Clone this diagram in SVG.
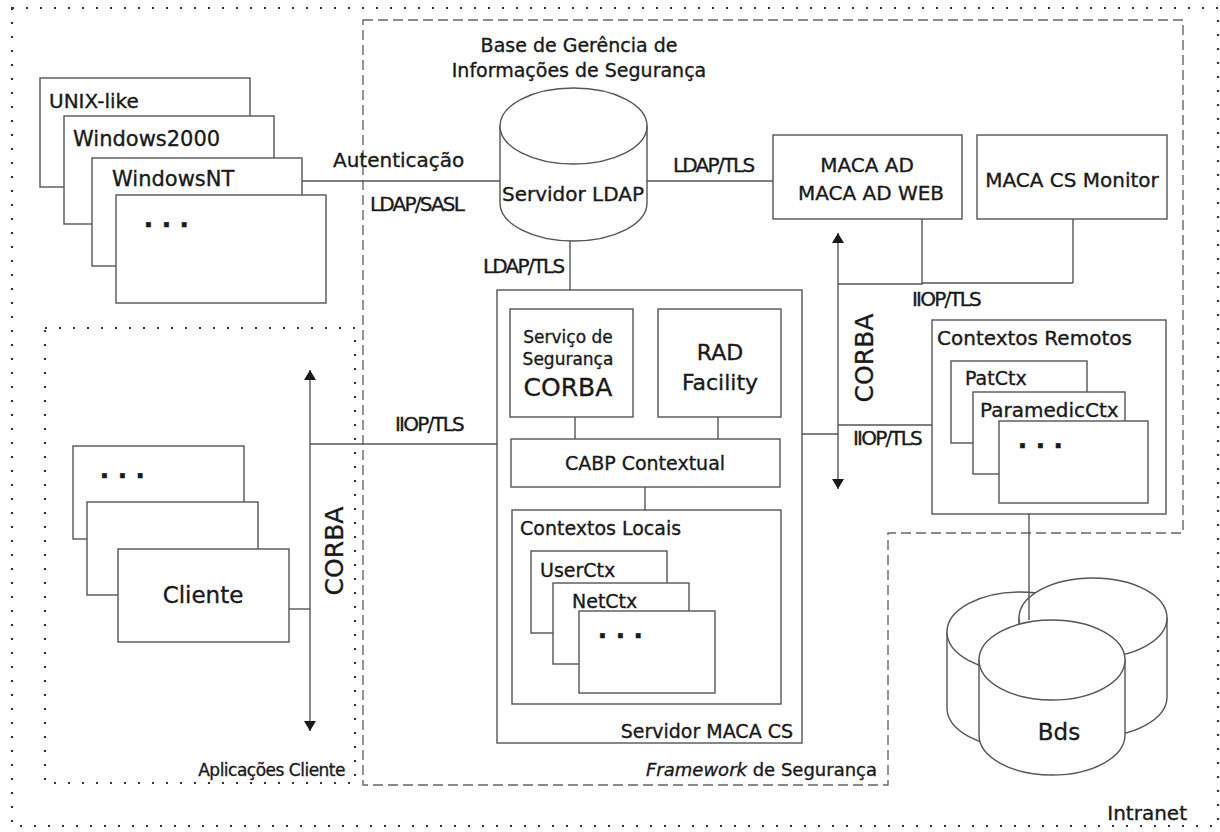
<svg xmlns="http://www.w3.org/2000/svg" width="1220" height="832" viewBox="0 0 1220 832" font-size="20">
<style>
text{font-family:"DejaVu Sans","Liberation Sans",sans-serif;fill:#1a1a1a;stroke:#1a1a1a;stroke-width:0.35}
.box{fill:#fff;stroke:#555;stroke-width:1.4}
.ln{fill:none;stroke:#555;stroke-width:1.4}
.dots{fill:none;stroke:#333;stroke-width:2.2;stroke-dasharray:2 12}
.dash{fill:none;stroke:#666;stroke-width:1.4;stroke-dasharray:10 5}
.mid{text-anchor:middle}
.end{text-anchor:end}
.tight{letter-spacing:-1.8px}
.ell{font-family:"Liberation Sans",sans-serif;font-weight:bold;letter-spacing:9px}
</style>
<defs>
<marker id="ah" viewBox="0 0 10 12" refX="10" refY="6" markerWidth="10" markerHeight="12" markerUnits="userSpaceOnUse" orient="auto">
<path d="M0,0 L10,6 L0,12 Z" fill="#1a1a1a"/>
</marker>
</defs>
<rect x="0" y="0" width="1220" height="832" fill="#fff"/>

<g id="intranet">
<rect class="dots" x="12" y="8" width="1206" height="818"/>
<text x="1187" y="820" class="end">Intranet</text>
</g>

<g id="framework">
<path class="dash" d="M363,20 L1183,20 L1183,533 L888,533 L888,785 L363,785 Z"/>
<text x="877" y="776" class="end" font-size="18"><tspan font-style="italic">Framework</tspan> de Segurança</text>
</g>

<g id="aplicacoes">
<rect class="dots" x="45" y="328" width="310" height="455"/>
<text x="345" y="776" class="end" font-size="17" letter-spacing="-0.5">Aplicações Cliente</text>
</g>

<g id="os-unix">
<rect class="box" x="40" y="78" width="210" height="109"/>
<text x="49" y="108">UNIX-like</text>
</g>
<g id="os-win2000">
<rect class="box" x="64" y="116" width="210" height="108"/>
<text x="73" y="146" font-size="21">Windows2000</text>
</g>
<g id="os-winnt">
<rect class="box" x="92" y="158" width="210" height="108"/>
<text x="112" y="186" font-size="21">WindowsNT</text>
</g>
<g id="os-more">
<rect class="box" x="116" y="195" width="210" height="108"/>
<text x="144" y="227" class="ell" font-size="32">...</text>
</g>

<g id="ldap">
<path class="box" d="M500,126 L500,203 A73.5,38 0 0 0 647,203 L647,126 Z"/>
<ellipse class="box" cx="573.5" cy="126" rx="73.5" ry="38"/>
<text x="573" y="201" class="mid">Servidor LDAP</text>
<text x="579" y="52" class="mid" font-size="19">Base de Gerência de</text>
<text x="579" y="77" class="mid" font-size="19">Informações de Segurança</text>
</g>

<g id="maca-ad">
<rect class="box" x="773" y="135" width="189" height="84"/>
<text x="867" y="172" class="mid">MACA AD</text>
<text x="871" y="200" class="mid">MACA AD WEB</text>
</g>
<g id="maca-monitor">
<rect class="box" x="977" y="135" width="190" height="84"/>
<text x="1072" y="187" class="mid">MACA CS Monitor</text>
</g>

<g id="servidor-maca">
<rect class="box" x="497" y="290" width="305" height="453"/>
<text x="793" y="738" class="end" font-size="19">Servidor MACA CS</text>
</g>
<g id="servico-seguranca">
<rect class="box" x="510" y="309" width="123" height="108"/>
<text x="568" y="343" class="mid" font-size="17">Serviço de</text>
<text x="568" y="365" class="mid" font-size="17">Segurança</text>
<text x="568" y="396" class="mid" font-size="25">CORBA</text>
</g>
<g id="rad">
<rect class="box" x="658" y="309" width="123" height="108"/>
<text x="720" y="360" class="mid" font-size="22">RAD</text>
<text x="720" y="390" class="mid" font-size="22">Facility</text>
</g>
<g id="cabp">
<rect class="box" x="511" y="439" width="269" height="48"/>
<text x="645" y="470" class="mid" font-size="19">CABP Contextual</text>
</g>
<g id="contextos-locais">
<rect class="box" x="512" y="510" width="269" height="194"/>
<text x="520" y="535" font-size="19">Contextos Locais</text>
</g>
<g id="userctx">
<rect class="box" x="531" y="551" width="136" height="82"/>
<text x="540" y="577" font-size="19">UserCtx</text>
</g>
<g id="netctx">
<rect class="box" x="553" y="583" width="136" height="81"/>
<text x="572" y="608" font-size="19">NetCtx</text>
</g>
<g id="localctx-more">
<rect class="box" x="579" y="611" width="136" height="82"/>
<text x="598" y="638" class="ell" font-size="32">...</text>
</g>

<g id="contextos-remotos">
<rect class="box" x="932" y="320" width="234" height="194"/>
<text x="937" y="345">Contextos Remotos</text>
</g>
<g id="patctx">
<rect class="box" x="951" y="361" width="136" height="82"/>
<text x="965" y="385" font-size="19">PatCtx</text>
</g>
<g id="paramedicctx">
<rect class="box" x="973" y="392" width="152" height="82"/>
<text x="980" y="417">ParamedicCtx</text>
</g>
<g id="remotectx-more">
<rect class="box" x="999" y="421" width="149" height="82"/>
<text x="1018" y="448" class="ell" font-size="32">...</text>
</g>

<g id="cliente-more">
<rect class="box" x="73" y="446" width="171" height="93"/>
<text x="100" y="478" class="ell" font-size="32">...</text>
</g>
<g id="cliente-2">
<rect class="box" x="87" y="502" width="171" height="93"/>
</g>
<g id="cliente">
<rect class="box" x="118" y="549" width="171" height="93"/>
<text x="203" y="603" class="mid" font-size="23">Cliente</text>
</g>

<g id="bds">
<path class="box" d="M947,632 L947,708 A73,40 0 0 0 1093,708 L1093,632 Z"/>
<ellipse class="box" cx="1020" cy="632" rx="73" ry="40"/>
<path class="box" d="M1019,618 L1019,697 A74,40 0 0 0 1167,697 L1167,618 Z"/>
<ellipse class="box" cx="1093" cy="618" rx="74" ry="40"/>
<path class="box" d="M979,660 L979,735 A73,40 0 0 0 1125,735 L1125,660 Z"/>
<ellipse class="box" cx="1052" cy="660" rx="73" ry="40"/>
<text x="1059" y="740" class="mid" font-size="23">Bds</text>
</g>

<g id="connectors">
<line class="ln" x1="302" y1="181" x2="500" y2="181"/>
<line class="ln" x1="647" y1="181" x2="773" y2="181"/>
<line class="ln" x1="570" y1="241" x2="570" y2="290"/>
<line class="ln" x1="922" y1="219" x2="922" y2="284"/>
<line class="ln" x1="1073" y1="219" x2="1073" y2="283"/>
<polyline class="ln" points="838,284 922,284 922,283 1073,283"/>
<line class="ln" x1="838" y1="362" x2="838" y2="233" marker-end="url(#ah)"/>
<line class="ln" x1="838" y1="362" x2="838" y2="489" marker-end="url(#ah)"/>
<line class="ln" x1="838" y1="425" x2="932" y2="425"/>
<line class="ln" x1="802" y1="434" x2="838" y2="434"/>
<line class="ln" x1="1029" y1="514" x2="1029" y2="620"/>
<line class="ln" x1="575" y1="417" x2="575" y2="439"/>
<line class="ln" x1="718" y1="417" x2="718" y2="439"/>
<line class="ln" x1="645" y1="487" x2="645" y2="510"/>
<line class="ln" x1="310" y1="444" x2="497" y2="444"/>
<line class="ln" x1="310" y1="550" x2="310" y2="370" marker-end="url(#ah)"/>
<line class="ln" x1="310" y1="550" x2="310" y2="731" marker-end="url(#ah)"/>
<line class="ln" x1="289" y1="609" x2="310" y2="609"/>
<text x="333" y="167">Autenticação</text>
<text x="370" y="211" class="tight">LDAP/SASL</text>
<text x="673" y="172" class="tight">LDAP/TLS</text>
<text x="483" y="273" class="tight">LDAP/TLS</text>
<text x="912" y="306" class="tight">IIOP/TLS</text>
<text x="853" y="445" class="tight">IIOP/TLS</text>
<text x="395" y="431" class="tight">IIOP/TLS</text>
<text x="0" y="0" class="mid" font-size="25" transform="translate(873,358) rotate(-90)">CORBA</text>
<text x="0" y="0" class="mid" font-size="25" transform="translate(343,551) rotate(-90)">CORBA</text>
</g>
</svg>
